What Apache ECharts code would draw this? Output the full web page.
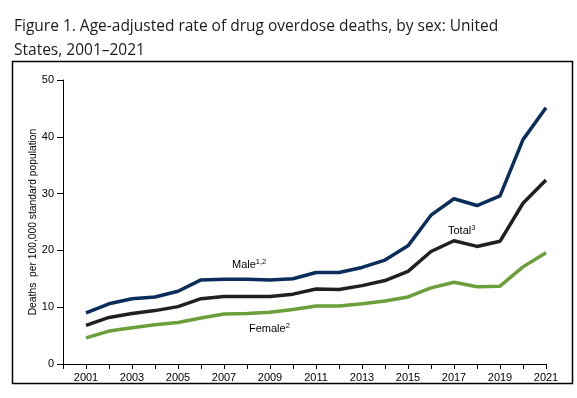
<!DOCTYPE html>
<html>
<head>
<meta charset="utf-8">
<script src="https://cdn.jsdelivr.net/npm/echarts@6/dist/echarts.min.js"></script>
<style>
  html, body { margin: 0; padding: 0; background: #fff; }
  #chart { width: 577px; height: 398px; }
</style>
</head>
<body>
<div id="chart"></div>
<script>
// years and rates (deaths per 100,000 standard population)
const years = [2001, 2002, 2003, 2004, 2005, 2006, 2007, 2008, 2009, 2010, 2011,
  2012, 2013, 2014, 2015, 2016, 2017, 2018, 2019, 2020, 2021]
const male = [9.0, 10.6, 11.5, 11.8, 12.8, 14.8, 14.9, 14.9, 14.8, 15.0, 16.1,
  16.1, 17.0, 18.3, 20.8, 26.2, 29.1, 27.9, 29.6, 39.5, 45.1]
const total = [6.8, 8.2, 8.9, 9.4, 10.1, 11.5, 11.9, 11.9, 11.9, 12.3, 13.2,
  13.1, 13.8, 14.7, 16.3, 19.8, 21.7, 20.7, 21.6, 28.3, 32.4]
const female = [4.6, 5.8, 6.4, 6.9, 7.3, 8.1, 8.8, 8.9, 9.1, 9.6, 10.2,
  10.2, 10.6, 11.1, 11.8, 13.4, 14.4, 13.6, 13.7, 17.1, 19.6]
const yTicks = [0, 10, 20, 30, 40, 50]

const font = 'Liberation Sans, Arial, sans-serif'

const toPairs = arr => arr.map((v, i) => [years[i], v])

const lineSeries = (name, data, color) => ({
  name,
  type: 'line',
  data: toPairs(data),
  symbol: 'none',
  lineStyle: { color, width: 3.5, join: 'round' },
  z: 3
})

const chart = echarts.init(document.getElementById('chart'), null, { renderer: 'canvas' })

chart.setOption({
  animation: false,
  title: {
    text: 'Figure 1. Age-adjusted rate of drug overdose deaths, by sex: United\nStates, 2001–2021',
    left: 9,
    top: 10,
    textStyle: {
      fontFamily: 'Open Sans',
      fontSize: 15.5,
      fontWeight: 'normal',
      color: '#1a1a1a',
      lineHeight: 24
    }
  },
  grid: { left: 63, right: 31, top: 80, bottom: 34 },
  xAxis: {
    type: 'value',
    min: 2000,
    max: 2021,
    interval: 1,
    splitLine: { show: false },
    axisLine: { lineStyle: { color: '#000', width: 1 } },
    axisTick: { length: 5, lineStyle: { color: '#000' } },
    axisLabel: {
      color: '#000',
      fontFamily: font,
      fontSize: 11,
      margin: 8,
      formatter: v => (v % 2 === 1 ? String(v) : '')
    }
  },
  yAxis: {
    type: 'value',
    min: yTicks[0],
    max: yTicks[yTicks.length - 1],
    interval: 10,
    name: 'Deaths  per 100,000 standard population',
    nameLocation: 'middle',
    nameGap: 25,
    nameMoveOverlap: false,
    nameTextStyle: { color: '#000', fontFamily: font, fontSize: 10.3 },
    splitLine: { show: false },
    axisLine: { show: true, lineStyle: { color: '#000', width: 1 } },
    axisTick: { show: true, length: 6, lineStyle: { color: '#000' } },
    axisLabel: { color: '#000', fontFamily: font, fontSize: 11, margin: 9 }
  },
  series: [
    lineSeries('Male', male, '#0b2d5b'),
    lineSeries('Total', total, '#221f20'),
    lineSeries('Female', female, '#6a9f3a')
  ],
  graphic: [
    {
      type: 'rect',
      shape: { x: 12.5, y: 61.5, width: 560, height: 322 },
      style: { fill: 'none', stroke: '#000', lineWidth: 1.5 },
      silent: true
    },
    {
      type: 'text',
      left: 232,
      top: 258,
      style: {
        text: '{b|Male}{s|1,2}',
        rich: {
          b: { fontFamily: font, fontSize: 11, fill: '#000' },
          s: { fontFamily: font, fontSize: 7.5, fill: '#000', padding: [0, 0, 5, 0] }
        }
      }
    },
    {
      type: 'text',
      left: 249,
      top: 322,
      style: {
        text: '{b|Female}{s|2}',
        rich: {
          b: { fontFamily: font, fontSize: 11, fill: '#000' },
          s: { fontFamily: font, fontSize: 7.5, fill: '#000', padding: [0, 0, 5, 0] }
        }
      }
    },
    {
      type: 'text',
      left: 448,
      top: 224,
      style: {
        text: '{b|Total}{s|3}',
        rich: {
          b: { fontFamily: font, fontSize: 11, fill: '#000' },
          s: { fontFamily: font, fontSize: 7.5, fill: '#000', padding: [0, 0, 5, 0] }
        }
      }
    }
  ]
})
</script>
</body>
</html>
